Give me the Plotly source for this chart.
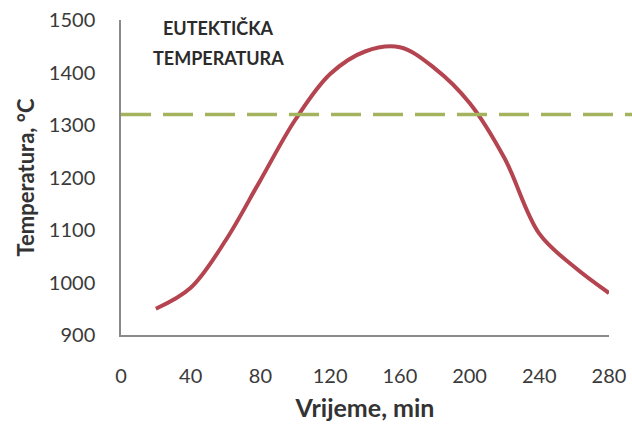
import plotly.graph_objects as go

time_min = [20, 40, 60, 80, 100, 120, 140, 160, 180, 200, 220, 240, 260, 280]
temperature = [950, 990, 1080, 1195, 1310, 1397, 1440, 1448, 1408, 1342, 1237, 1093, 1030, 980]
eutectic_temp = 1320
x_ticks = [0, 40, 80, 120, 160, 200, 240, 280]
y_ticks = [900, 1000, 1100, 1200, 1300, 1400, 1500]
label_lines = ["EUTEKTIČKA", "TEMPERATURA"]
label_x = 56

FONT = "Lato"

fig = go.Figure()
fig.add_trace(go.Scatter(
    x=time_min, y=temperature, mode="lines",
    line=dict(color="#B4444F", width=4, shape="spline", smoothing=1.0),
    showlegend=False, hoverinfo="skip",
))

fig.add_shape(type="line", xref="paper", yref="y", x0=0, x1=1.05,
              y0=eutectic_temp, y1=eutectic_temp,
              line=dict(color="#A3B35E", width=3.5, dash="30px,12px"))

fig.add_annotation(xref="x", yref="paper", x=label_x, y=1.0, yshift=-8, yanchor="middle",
                   text="<b>" + label_lines[0] + "</b>",
                   showarrow=False, font=dict(family=FONT, size=18, color="#2b2b2b"))
fig.add_annotation(xref="x", yref="paper", x=label_x, y=1.0, yshift=-38, yanchor="middle",
                   text="<b>" + label_lines[1] + "</b>",
                   showarrow=False, font=dict(family=FONT, size=18, color="#2b2b2b"))

fig.update_layout(
    width=632, height=427,
    margin=dict(l=121, r=23, t=20, b=92),
    paper_bgcolor="white", plot_bgcolor="white",
    font=dict(family=FONT, color="#404040"),
)
fig.update_xaxes(
    range=[0, 280], tickvals=x_ticks, ticktext=[str(v) for v in x_ticks],
    showgrid=False, zeroline=False, showline=True, linecolor="#8a8a8a", linewidth=1.5,
    ticks="", ticklabelstandoff=22, automargin=False,
    tickfont=dict(family=FONT, size=20, color="#3a3a3a"),
    title=dict(text="<b>Vrijeme, min</b>", font=dict(family=FONT, size=25, color="#333333"), standoff=14),
)
fig.update_yaxes(
    range=[900, 1500], tickvals=y_ticks, ticktext=[str(v) for v in y_ticks],
    showgrid=False, zeroline=False, showline=True, linecolor="#8a8a8a", linewidth=1.5,
    ticks="", ticklabelstandoff=20, automargin=False,
    tickfont=dict(family=FONT, size=20, color="#3a3a3a"),
    title=dict(text="<b>Temperatura, °C</b>", font=dict(family=FONT, size=22, color="#333333"), standoff=8),
)

fig.write_html("out.html", config={"displayModeBar": False},
               post_script="document.body.style.margin='0px';")
